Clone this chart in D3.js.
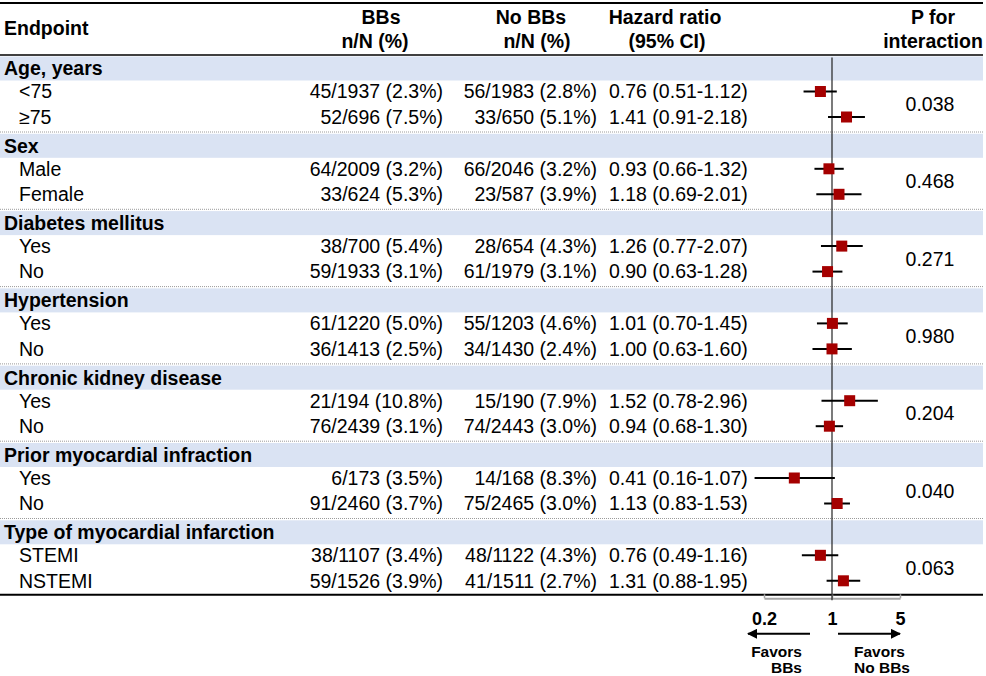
<!DOCTYPE html>
<html>
<head>
<meta charset="utf-8">
<script src="https://cdn.jsdelivr.net/npm/d3@7"></script>
<style>
  body { margin: 0; background: #fff; }
  svg text { font-family: "Liberation Sans", Arial, sans-serif; fill: #000; }
</style>
</head>
<body>
<div id="chart"></div>
<script>
// subgroup data, one entry per group, two rows each
var groupNames = ["Age, years", "Sex", "Diabetes mellitus", "Hypertension",
  "Chronic kidney disease", "Prior myocardial infraction", "Type of myocardial infarction"];
var rowLabels = [["<75", "\u226575"], ["Male", "Female"], ["Yes", "No"], ["Yes", "No"],
  ["Yes", "No"], ["Yes", "No"], ["STEMI", "NSTEMI"]];
var bbsText = [["45/1937 (2.3%)", "52/696 (7.5%)"], ["64/2009 (3.2%)", "33/624 (5.3%)"],
  ["38/700 (5.4%)", "59/1933 (3.1%)"], ["61/1220 (5.0%)", "36/1413 (2.5%)"],
  ["21/194 (10.8%)", "76/2439 (3.1%)"], ["6/173 (3.5%)", "91/2460 (3.7%)"],
  ["38/1107 (3.4%)", "59/1526 (3.9%)"]];
var noBbsText = [["56/1983 (2.8%)", "33/650 (5.1%)"], ["66/2046 (3.2%)", "23/587 (3.9%)"],
  ["28/654 (4.3%)", "61/1979 (3.1%)"], ["55/1203 (4.6%)", "34/1430 (2.4%)"],
  ["15/190 (7.9%)", "74/2443 (3.0%)"], ["14/168 (8.3%)", "75/2465 (3.0%)"],
  ["48/1122 (4.3%)", "41/1511 (2.7%)"]];
var hr = [[0.76, 1.41], [0.93, 1.18], [1.26, 0.90], [1.01, 1.00], [1.52, 0.94], [0.41, 1.13], [0.76, 1.31]];
var hrLow = [[0.51, 0.91], [0.66, 0.69], [0.77, 0.63], [0.70, 0.63], [0.78, 0.68], [0.16, 0.83], [0.49, 0.88]];
var hrHigh = [[1.12, 2.18], [1.32, 2.01], [2.07, 1.28], [1.45, 1.60], [2.96, 1.30], [1.07, 1.53], [1.16, 1.95]];
var pInteraction = ["0.038", "0.468", "0.271", "0.980", "0.204", "0.040", "0.063"];
var axisTicks = [0.2, 1, 5];

var W = 986, H = 676, FS = 19.5;
var groupTop = 56.5, groupStep = 77.3;

var svg = d3.select("#chart").append("svg")
  .attr("width", W).attr("height", H);

var x = d3.scaleLog().domain([0.2, 5]).range([764, 900]);

function fmt(v) { return v.toFixed(2); }

// header
svg.append("line").attr("x1", 0).attr("x2", 983).attr("y1", 3).attr("y2", 3)
  .attr("stroke", "#000").attr("stroke-width", 2);
svg.append("line").attr("x1", 0).attr("x2", 983).attr("y1", 55).attr("y2", 55)
  .attr("stroke", "#000").attr("stroke-width", 1.6);

var headers = [
  { t: "Endpoint", x: 4, y: 28, a: "start" },
  { t: "BBs", x: 381, y: 17, a: "middle" },
  { t: "n/N (%)", x: 375, y: 41, a: "middle" },
  { t: "No BBs", x: 531, y: 17, a: "middle" },
  { t: "n/N (%)", x: 537, y: 41, a: "middle" },
  { t: "Hazard ratio", x: 665, y: 17, a: "middle" },
  { t: "(95% CI)", x: 667, y: 41, a: "middle" },
  { t: "P for", x: 933, y: 17, a: "middle" },
  { t: "interaction", x: 933, y: 41, a: "middle" }
];
svg.selectAll(".hdr").data(headers).enter().append("text")
  .attr("class", "hdr")
  .attr("x", (d) => d.x).attr("y", (d) => d.y).attr("dy", "0.35em")
  .attr("text-anchor", (d) => d.a)
  .attr("font-size", FS + "px").attr("font-weight", "bold")
  .text((d) => d.t);

// groups
var g = svg.selectAll(".grp").data(groupNames).enter().append("g")
  .attr("class", "grp")
  .attr("transform", (d, i) => "translate(0," + (groupTop + i * groupStep) + ")");

g.append("rect").attr("x", 0).attr("width", 983).attr("y", 0).attr("height", 24)
  .attr("fill", "#dae3f3");
g.append("text").attr("x", 4).attr("y", 12).attr("dy", "0.35em")
  .attr("font-size", FS + "px").attr("font-weight", "bold")
  .text((d) => d);
g.filter((d, i) => i < groupNames.length - 1)
  .append("line").attr("x1", 0).attr("x2", 983).attr("y1", 75.5).attr("y2", 75.5)
  .attr("stroke", "#9a9a9a").attr("stroke-width", 1).attr("stroke-dasharray", "1,1");

var rowY = [35, 60.5];

g.each(function(d, i) {
  var grp = d3.select(this);
  for (var r = 0; r < 2; r++) {
    var y = rowY[r];
    grp.append("text").attr("x", 19).attr("y", y).attr("dy", "0.35em")
      .attr("font-size", FS + "px").text(rowLabels[i][r]);
    grp.append("text").attr("x", 443).attr("y", y).attr("dy", "0.35em")
      .attr("text-anchor", "end").attr("font-size", FS + "px").text(bbsText[i][r]);
    grp.append("text").attr("x", 597).attr("y", y).attr("dy", "0.35em")
      .attr("text-anchor", "end").attr("font-size", FS + "px").text(noBbsText[i][r]);
    grp.append("text").attr("x", 609).attr("y", y).attr("dy", "0.35em")
      .attr("font-size", FS + "px")
      .text(fmt(hr[i][r]) + " (" + fmt(hrLow[i][r]) + "-" + fmt(hrHigh[i][r]) + ")");
  }
  grp.append("text").attr("x", 930).attr("y", (rowY[0] + rowY[1]) / 2).attr("dy", "0.35em")
    .attr("text-anchor", "middle").attr("font-size", FS + "px").text(pInteraction[i]);
});

// bottom rule
var bottomY = groupTop + 6 * groupStep + 74.5;
svg.append("line").attr("x1", 0).attr("x2", 983).attr("y1", bottomY).attr("y2", bottomY)
  .attr("stroke", "#000").attr("stroke-width", 2);

// axis
var axisY = bottomY + 3.5;
var axis = svg.append("g").attr("transform", "translate(0," + axisY + ")")
  .call(d3.axisBottom(x).tickValues(axisTicks).tickFormat((d) => String(d))
    .tickSizeInner(-4).tickSizeOuter(0).tickPadding(14));
axis.select(".domain").attr("stroke", "#a6a6a6").attr("stroke-width", 2);
axis.selectAll(".tick line").attr("stroke", "#a6a6a6").attr("stroke-width", 1.5);
axis.selectAll(".tick text").attr("font-size", "18px").attr("font-weight", "bold")
  .attr("font-family", "Liberation Sans, Arial, sans-serif").attr("fill", "#000");

// reference line at HR = 1
svg.append("line").attr("x1", x(1)).attr("x2", x(1)).attr("y1", groupTop + 1).attr("y2", axisY + 2)
  .attr("stroke", "#222").attr("stroke-width", 1.2);

// CI lines and squares
var pts = [];
hr.forEach(function(pair, i) {
  pair.forEach(function(v, r) {
    pts.push({ v: v, lo: hrLow[i][r], hi: hrHigh[i][r], y: groupTop + i * groupStep + rowY[r] });
  });
});
svg.selectAll(".ci").data(pts).enter().append("line")
  .attr("class", "ci")
  .attr("x1", (d) => x(d.lo)).attr("x2", (d) => x(d.hi))
  .attr("y1", (d) => d.y).attr("y2", (d) => d.y)
  .attr("stroke", "#000").attr("stroke-width", 2);
svg.selectAll(".pt").data(pts).enter().append("rect")
  .attr("class", "pt")
  .attr("x", (d) => x(d.v) - 5.5).attr("y", (d) => d.y - 5.5)
  .attr("width", 11).attr("height", 11)
  .attr("fill", "#a50000");

// favours arrows
var defs = svg.append("defs");
defs.append("marker").attr("id", "ah").attr("viewBox", "0 0 10 10")
  .attr("refX", 9).attr("refY", 5).attr("markerWidth", 5).attr("markerHeight", 5)
  .attr("orient", "auto")
  .append("path").attr("d", "M0,0 L10,5 L0,10 Z").attr("fill", "#000");

var arrowY = axisY + 35.5;
svg.append("line").attr("x1", x(1) - 22).attr("x2", x(0.2) - 16)
  .attr("y1", arrowY).attr("y2", arrowY)
  .attr("stroke", "#000").attr("stroke-width", 2).attr("marker-end", "url(#ah)");
svg.append("line").attr("x1", x(1) + 6).attr("x2", x(5))
  .attr("y1", arrowY).attr("y2", arrowY)
  .attr("stroke", "#000").attr("stroke-width", 2).attr("marker-end", "url(#ah)");

var favors = [
  { t: "Favors", x: 802, y: 652, a: "end" },
  { t: "BBs", x: 802, y: 668, a: "end" },
  { t: "Favors", x: 854, y: 652, a: "start" },
  { t: "No BBs", x: 854, y: 668, a: "start" }
];
svg.selectAll(".fav").data(favors).enter().append("text")
  .attr("class", "fav")
  .attr("x", (d) => d.x).attr("y", (d) => d.y).attr("dy", "0.35em")
  .attr("text-anchor", (d) => d.a)
  .attr("font-size", "15.5px").attr("font-weight", "bold")
  .text((d) => d.t);
</script>
</body>
</html>
